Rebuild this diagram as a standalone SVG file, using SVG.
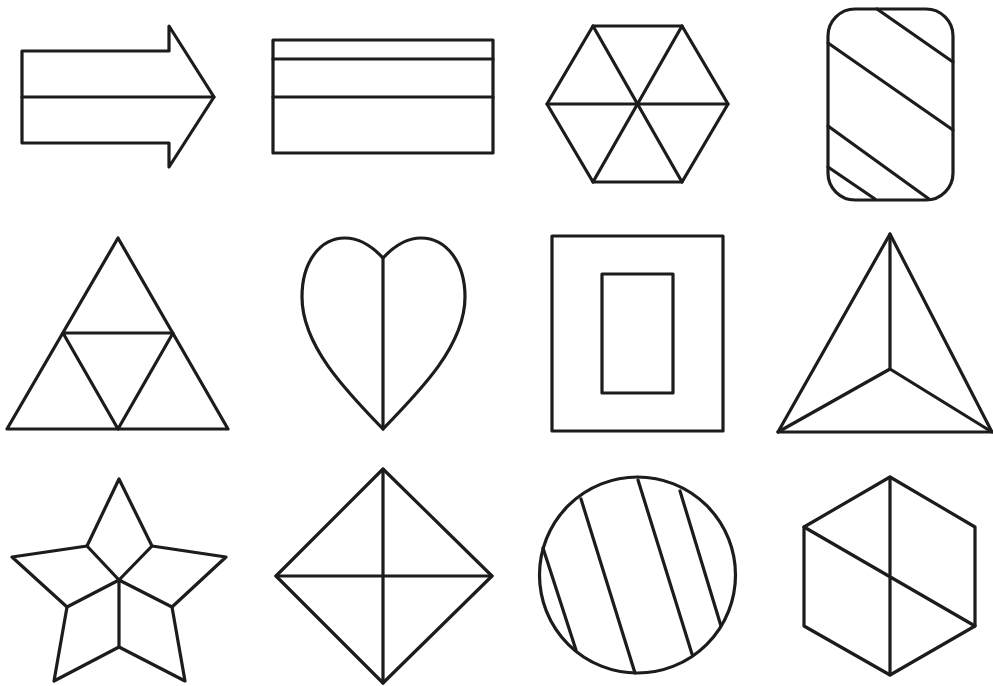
<svg xmlns="http://www.w3.org/2000/svg" width="993" height="686" viewBox="0 0 993 686">
<style>
.s{fill:none;stroke:#1c1c1c;stroke-width:3.2;stroke-linejoin:round;stroke-linecap:round}
</style>
<rect width="993" height="686" fill="#fff"/>
<g class="s">
<g id="arrow">
<path d="M22,51 H169 V26 L214,97 L169,167 V143 H22 Z"/>
<line x1="22" y1="97" x2="214" y2="97"/>
</g>
<g id="striped-rect">
<rect x="273" y="40" width="220" height="113"/>
<line x1="273" y1="59" x2="493" y2="59"/>
<line x1="273" y1="97" x2="493" y2="97"/>
</g>
<g id="hexagon-star">
<path d="M593,26 H682 L728,104 L682,182 H593 L547,104 Z"/>
<line x1="547" y1="104" x2="728" y2="104"/>
<line x1="593" y1="26" x2="682" y2="182"/>
<line x1="682" y1="26" x2="593" y2="182"/>
</g>
<g id="rounded-rect">
<rect x="828" y="9" width="125" height="191" rx="27"/>
<line x1="877" y1="9" x2="953" y2="62"/>
<line x1="828" y1="43" x2="953" y2="130"/>
<line x1="828" y1="126" x2="929" y2="199"/>
<line x1="828" y1="167" x2="875" y2="199"/>
</g>
<g id="triforce">
<path d="M118,238 L228,429 H7 Z"/>
<path d="M63,333 H173 L118,429 Z"/>
</g>
<g id="heart">
<path d="M383,258 C370,244 358,238 345,238 C320,238 302,262 302,297 C302,345 345,390 383,429 C421,390 465,345 465,297 C465,262 446,238 421,238 C408,238 396,244 383,258 Z"/>
<line x1="383" y1="258" x2="383" y2="429"/>
</g>
<g id="frame">
<rect x="552" y="236" width="171" height="195"/>
<rect x="602" y="274" width="71" height="119"/>
</g>
<g id="pyramid">
<path d="M890,234 L992,432 H778 Z"/>
<path d="M890,234 V369 M778,432 L890,369 L992,432"/>
</g>
<g id="star">
<path d="M119,479 L152,546 L226,557 L172,607 L185,681 L119,647 L54,681 L67,607 L12,557 L87,546 Z"/>
<path d="M87,546 L119,580 L152,546 M67,607 L119,580 L172,607 M119,580 V647"/>
</g>
<g id="diamond">
<path d="M383,469 L492,576 L383,683 L276,576 Z"/>
<path d="M383,469 V683 M276,576 H492"/>
</g>
<g id="circle">
<circle cx="637.5" cy="575" r="98"/>
<line x1="543" y1="548" x2="576" y2="650"/>
<line x1="581" y1="499" x2="635" y2="673"/>
<line x1="638" y1="480" x2="692" y2="654"/>
<line x1="680" y1="491" x2="721" y2="626"/>
</g>
<g id="hexagon-split">
<path d="M890,477 L975,527 V626 L890,675 L804,626 V527 Z"/>
<path d="M890,477 V675 M804,527 L975,626"/>
</g>
</g>
</svg>
